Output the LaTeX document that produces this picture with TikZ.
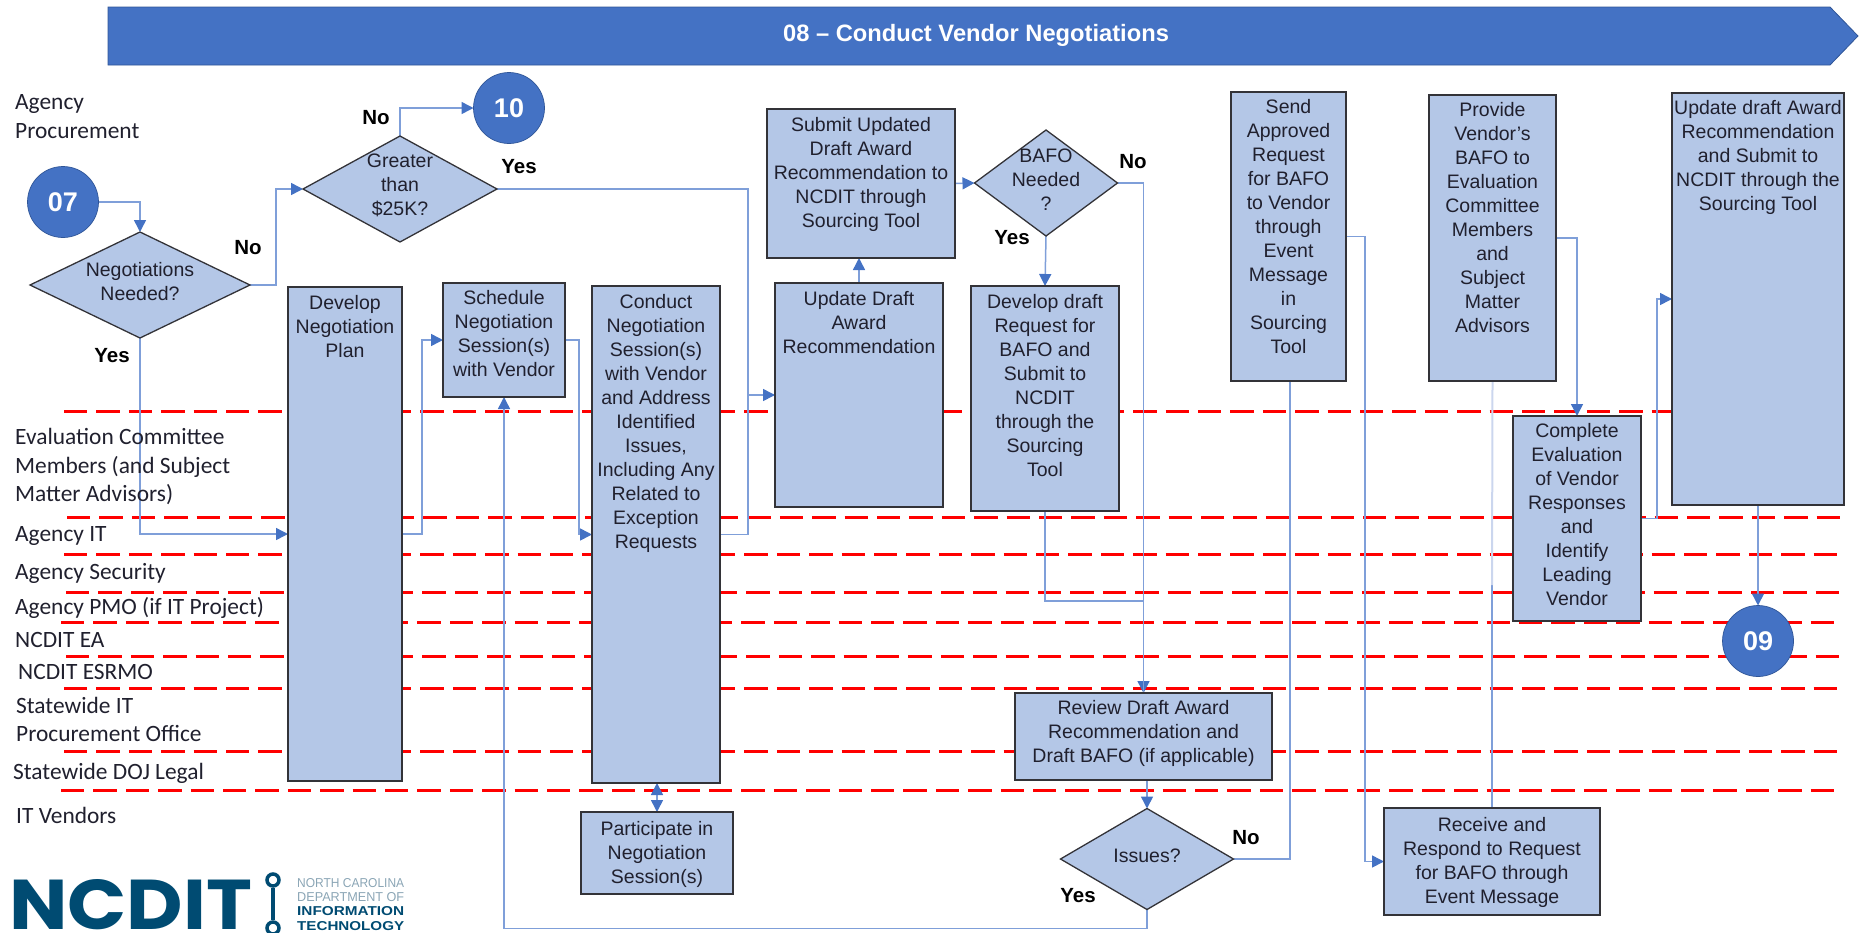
\documentclass[tikz,border=0pt]{standalone}
\usepackage{fontspec}
\usepackage{graphicx}
\setmainfont{Liberation Sans}
\newfontfamily\lanefont{Carlito}
\newfontfamily\logofont{Poppins}
\usetikzlibrary{shapes.geometric,arrows.meta,backgrounds}
\definecolor{bannerblue}{HTML}{4472C4}
\definecolor{bannerline}{HTML}{2F5597}
\definecolor{boxfill}{HTML}{B4C7E7}
\definecolor{boxline}{HTML}{333338}
\definecolor{connline}{HTML}{7F9FD9}
\definecolor{paleline}{HTML}{CBD6EE}
\definecolor{tipblue}{HTML}{4472C4}
\definecolor{textdark}{HTML}{20202E}
\definecolor{logoblue}{HTML}{004B72}
\definecolor{logogray}{HTML}{8AA5B5}
\tikzset{
  fbox/.style={draw=boxline,fill=boxfill,line width=1.5pt,inner sep=0pt,outer sep=0pt,text=textdark,font=\fontsize{19.5}{24}\selectfont},
  dm/.style={diamond,draw=boxline,fill=boxfill,line width=1.3pt,inner sep=0pt,outer sep=0pt,text=textdark,font=\fontsize{19.5}{24}\selectfont},
  bub/.style={circle,draw=bannerline,fill=bannerblue,line width=.7pt,inner sep=0pt,outer sep=0pt,minimum size=71pt,text=white,font=\fontsize{27}{30}\selectfont\bfseries},
  conn/.style={draw=connline,line width=1.5pt},
  arr/.style={conn,-{Triangle[length=12pt,width=12pt,color=tipblue]}},
  biarr/.style={conn,{Triangle[length=12pt,width=12pt,color=tipblue]}-{Triangle[length=12pt,width=12pt,color=tipblue]}},
  lane/.style={anchor=base west,inner sep=0pt,text=textdark,font=\lanefont\fontsize{23.4}{28}\selectfont},
  tag/.style={inner sep=0pt,text=black,font=\fontsize{20.5}{24}\selectfont\bfseries},
  redline/.style={draw=red,line width=3pt,dash pattern=on 23.3pt off 9.1pt},
}
\newcommand\flowbox[7]{\node[fbox,anchor=north west] (#1) at (#2,#3) {\parbox[c][\dimexpr#5pt-#3pt\relax][t]{\dimexpr#4pt-#2pt\relax}{\centering\vspace*{#6pt}\strut #7}};}
\newcommand\dtxt[1]{\makebox[0pt][c]{\smash{\raisebox{-2pt}{\parbox[c]{200pt}{\centering #1}}}}}
\begin{document}
\begin{tikzpicture}[x=1pt,y=-1pt]
\useasboundingbox (0,0) rectangle (1862,932);
% banner
\draw[bannerline,fill=bannerblue,line width=.8pt] (108,7) -- (1830,7) -- (1858,36) -- (1830,65) -- (108,65) -- cycle;
\node[text=white,inner sep=0pt,font=\fontsize{23.7}{26}\selectfont\bfseries] (title) at (976,35) {08 – Conduct Vendor Negotiations};
% lane labels
\node[lane] (l1) at (15,109) {Agency};
\node[lane] (l2) at (15,138) {Procurement};
\node[lane] (l3) at (15,444) {Evaluation Committee};
\node[lane] (l4) at (15,473) {Members (and Subject};
\node[lane] (l5) at (15,501) {Matter Advisors)};
\node[lane] (l6) at (15,541) {Agency IT};
\node[lane] (l7) at (15,579) {Agency Security};
\node[lane] (l8) at (15,614) {Agency PMO (if IT Project)};
\node[lane] (l9) at (15,647) {NCDIT EA};
\node[lane] (l10) at (18,679) {NCDIT ESRMO};
\node[lane] (l11) at (16,713) {Statewide IT};
\node[lane] (l12) at (16,741) {Procurement Office};
\node[lane] (l13) at (13,779) {Statewide DOJ Legal};
\node[lane] (l14) at (16,823) {IT Vendors};
% boxes
\flowbox{plan}{288}{287}{402}{781}{6}{Develop\\Negotiation\\Plan}
\flowbox{schedule}{443}{283}{565}{397}{5}{Schedule\\Negotiation\\Session(s)\\with Vendor}
\flowbox{conduct}{592}{286}{720}{783}{6}{Conduct\\Negotiation\\Session(s)\\with Vendor\\and Address\\Identified\\Issues,\\Including Any\\Related to\\Exception\\Requests}
\flowbox{participate}{581}{812}{733}{894}{7}{Participate in\\Negotiation\\Session(s)}
\flowbox{update}{775}{283}{943}{507}{6}{Update Draft\\Award\\Recommendation}
\flowbox{submit}{767}{109}{955}{258}{6}{Submit Updated\\Draft Award\\Recommendation to\\NCDIT through\\Sourcing Tool}
\flowbox{develop}{971}{286}{1119}{511}{6}{Develop draft\\Request for\\BAFO and\\Submit to\\NCDIT\\through the\\Sourcing\\Tool}
\flowbox{review}{1015}{693}{1272}{780}{5}{Review Draft Award\\Recommendation and\\Draft BAFO (if applicable)}
\flowbox{send}{1231}{92}{1346}{381}{5}{Send\\Approved\\Request\\for BAFO\\to Vendor\\through\\Event\\Message\\in\\Sourcing\\Tool}
\flowbox{provide}{1429}{95}{1556}{381}{5}{Provide\\Vendor's\\BAFO to\\Evaluation\\Committee\\Members\\and\\Subject\\Matter\\Advisors}
\flowbox{receive}{1384}{808}{1600}{915}{7}{Receive and\\Respond to Request\\for BAFO through\\Event Message}
\flowbox{complete}{1513}{416}{1641}{621}{5}{Complete\\Evaluation\\of Vendor\\Responses\\and\\Identify\\Leading\\Vendor}
\flowbox{rightbox}{1672}{93}{1844}{505}{5}{Update draft Award\\Recommendation\\and Submit to\\NCDIT through the\\Sourcing Tool}
% decisions
\node[dm,minimum width=220pt,minimum height=106pt] (neg) at (140,285) {\dtxt{Negotiations\\Needed?}};
\node[dm,minimum width=194pt,minimum height=106pt] (greater) at (400,189) {\dtxt{Greater\\than\\\$25K?}};
\node[dm,minimum width=143pt,minimum height=106pt] (bafo) at (1046,183) {\dtxt{BAFO\\Needed\\?}};
\node[dm,minimum width=173pt,minimum height=101pt] (issues) at (1147,859) {\dtxt{Issues?}};
% off-page connectors
\node[bub] (c07) at (63,202) {07};
\node[bub] (c10) at (509,108) {10};
\node[bub] (c09) at (1758,641) {09};
% yes/no tags
\node[tag] (t1) at (376,118) {No};
\node[tag] (t2) at (519,167) {Yes};
\node[tag] (t3) at (248,248) {No};
\node[tag] (t4) at (112,356) {Yes};
\node[tag] (t5) at (1133,162) {No};
\node[tag] (t6) at (1012,238) {Yes};
\node[tag] (t7) at (1246,838) {No};
\node[tag] (t8) at (1078,896) {Yes};
% named helpers
\coordinate (bus) at (748,395);
\coordinate (sendfoot) at (1290,381);
\coordinate (palestop) at (1492,585);
% connectors
\begin{scope}[on background layer]
\foreach \ya/\xa/\xb in {411/64/1672,517/67/1845,554/64/1842,592/66/1845,622/61/1839,656/66/1842,688/64/1842,751/64/1842,790/61/1839}
  \draw[redline] (\xa,\ya) -- (\xb,\ya);
\draw[arr] (c07.east) -| (neg.north);
\draw[arr] (neg.east) -- ++(26,0) |- (greater.west);
\draw[arr] (greater.north) |- (c10.west);
\draw[conn] (greater.east) -| (bus);
\draw[conn] (conduct.east) -| (bus);
\draw[arr] (bus) -- (update.west);
\draw[arr] (neg.south) |- (plan.west);
\draw[arr] (plan.east) -- ++(20,0) |- (schedule.west);
\draw[arr] (schedule.east) -- ++(14,0) |- (conduct.west);
\draw[arr] (issues.south) -- ++(0,19) -| (schedule.south);
\draw[biarr] (participate.north |- conduct.south) -- (participate.north);
\draw[arr] (update.north) -- (update.north |- submit.south);
\draw[arr] (submit.east) -- (bafo.west);
\draw[arr] (bafo.south) -- (develop.north);
\draw[arr] (bafo.east) -| (review.north);
\draw[conn] (develop.south) -- ++(0,90) -| (review.north);
\draw[arr] (issues.north |- review.south) -- (issues.north);
\draw[conn] (issues.east) -| (sendfoot);
\draw[arr] (send.east) -- ++(19,0) |- (receive.west);
\draw[conn] (receive.north) -- (palestop);
\draw[draw=paleline,line width=2pt] (palestop) -- (provide.south);
\draw[arr] (provide.east) -| (complete.north);
\draw[arr] (complete.east) -- ++(16,0) |- (rightbox.west);
\draw[arr] (rightbox.south) -- (c09.north);
\end{scope}
% logo
\node[anchor=north west,inner sep=0pt,text=logoblue] (logo) at (9,879) {\resizebox{243pt}{50pt}{\logofont\bfseries NCDIT}};
\node[circle,draw=logoblue,fill=white,line width=3.5pt,minimum size=12pt,inner sep=0pt] (ringtop) at (273,880) {};
\node[circle,draw=logoblue,fill=white,line width=3.5pt,minimum size=12pt,inner sep=0pt] (ringbot) at (273,928) {};
\draw[logoblue,line width=3.5pt] (ringtop) -- (ringbot);
\node[anchor=west,inner sep=0pt,text=logogray] (g1) at (297,883) {\resizebox{107pt}{9pt}{NORTH CAROLINA}};
\node[anchor=west,inner sep=0pt,text=logogray] (g2) at (297,897) {\resizebox{107pt}{9pt}{DEPARTMENT OF}};
\node[anchor=west,inner sep=0pt,text=logoblue] (g3) at (297,911) {\resizebox{107pt}{9pt}{\bfseries INFORMATION}};
\node[anchor=west,inner sep=0pt,text=logoblue] (g4) at (297,926) {\resizebox{107pt}{9pt}{\bfseries TECHNOLOGY}};
\end{tikzpicture}
\end{document}
